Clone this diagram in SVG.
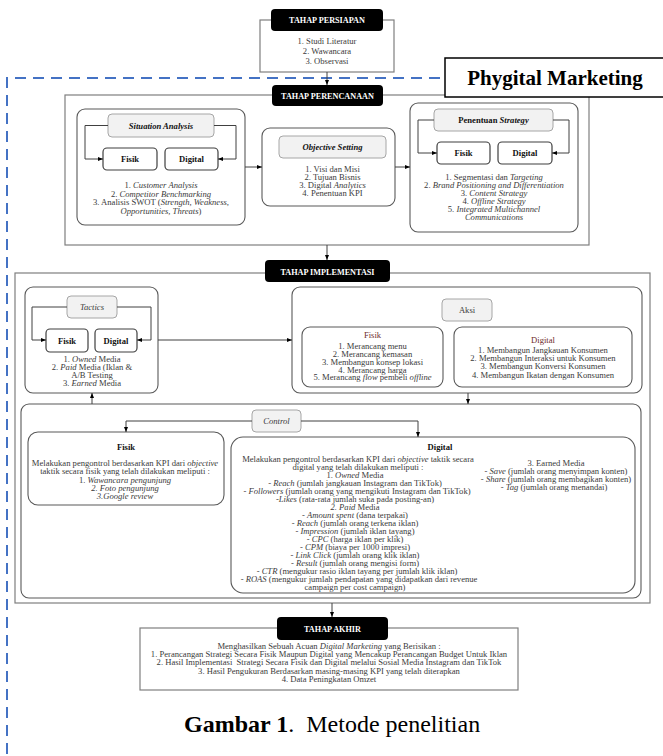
<svg xmlns="http://www.w3.org/2000/svg" width="663" height="756" viewBox="0 0 663 756">
<style>
.t{font-family:"Liberation Serif",serif;font-size:8.6px;fill:#3a3a3a;text-anchor:middle}
.i{font-style:italic}
.b{font-weight:bold;fill:#111}
.hd{font-family:"Liberation Serif",serif;font-size:8.2px;font-weight:bold;fill:#fff;text-anchor:middle}
.big{font-family:"Liberation Serif",serif;fill:#000}
.blk{fill:#000}
.outer{fill:#fff;stroke:#7f7f7f;stroke-width:1.2}
.card{fill:#fff;stroke:#595959;stroke-width:1.1}
.lab{fill:#f2f2f2;stroke:#a6a6a6;stroke-width:1}
.sub{fill:#fff;stroke:#3f3f3f;stroke-width:1.2}
.con{fill:none;stroke:#404040;stroke-width:1}
.mr{fill:#6e2a2a}
</style>
<defs>
<marker id="ah" viewBox="0 0 10 10" refX="10" refY="5" markerWidth="5" markerHeight="5" orient="auto" markerUnits="userSpaceOnUse"><path d="M0,1 L10,5 L0,9 z" fill="#000"/></marker>
</defs>
<rect width="663" height="756" fill="#fff"/>

<g id="phygital-border">
<path d="M440,78 H7 V756" fill="none" stroke="#4472C4" stroke-width="2" stroke-dasharray="11,7"/>
</g>

<g id="persiapan">
<rect class="outer" x="260" y="20" width="134" height="52"/>
<rect class="blk" x="271" y="9" width="112" height="22" rx="4"/>
<text class="hd" x="327" y="23">TAHAP PERSIAPAN</text>
<text class="t" x="327" y="44">1. Studi Literatur</text>
<text class="t" x="327" y="54">2. Wawancara</text>
<text class="t" x="327" y="64">3. Observasi</text>
</g>

<g id="perencanaan">
<rect class="outer" x="65" y="95" width="524" height="150"/>
<rect class="blk" x="272" y="85" width="111" height="21" rx="4"/>
<text class="hd" x="327.5" y="98.5">TAHAP PERENCANAAN</text>
</g>

<g id="situation">
<rect class="card" x="77" y="109" width="168" height="116" rx="8"/>
<rect class="lab" x="108" y="114" width="106" height="23" rx="4"/>
<text class="t i b" x="161" y="128.5">Situation Analysis</text>
<rect class="sub" x="103" y="148" width="54" height="22" rx="4"/>
<text class="t b" x="130" y="162">Fisik</text>
<rect class="sub" x="165" y="148" width="53" height="22" rx="4"/>
<text class="t b" x="191.5" y="162">Digital</text>
<text class="t" x="161" y="187.5">1. <tspan class="i">Customer Analysis</tspan></text>
<text class="t" x="161" y="196.5">2. <tspan class="i">Competitor Benchmarking</tspan></text>
<text class="t" x="161" y="204.5">3. Analisis SWOT (<tspan class="i">Strength, Weakness,</tspan></text>
<text class="t i" x="161" y="213.5">Opportunities, Threats<tspan font-style="normal">)</tspan></text>
</g>

<g id="objective">
<rect class="card" x="262" y="128" width="133" height="78" rx="8"/>
<rect class="lab" x="279" y="136" width="107" height="22" rx="4"/>
<text class="t i b" x="332.5" y="150">Objective Setting</text>
<text class="t" x="332.5" y="171.5">1. Visi dan Misi</text>
<text class="t" x="332.5" y="179.5">2. Tujuan Bisnis</text>
<text class="t" x="332.5" y="187.5">3. Digital <tspan class="i">Analytics</tspan></text>
<text class="t" x="332.5" y="195.5">4. Penentuan KPI</text>
</g>

<g id="strategy">
<rect class="card" x="410" y="103" width="168" height="129" rx="8"/>
<rect class="lab" x="434" y="109" width="119" height="22" rx="4"/>
<text class="t b" x="493.5" y="123">Penentuan <tspan class="i">Strategy</tspan></text>
<rect class="sub" x="437" y="142" width="53" height="22" rx="4"/>
<text class="t b" x="463.5" y="156">Fisik</text>
<rect class="sub" x="498" y="142" width="54" height="22" rx="4"/>
<text class="t b" x="525" y="156">Digital</text>
<text class="t" x="494" y="179.5">1. Segmentasi dan <tspan class="i">Targeting</tspan></text>
<text class="t" x="494" y="188">2. <tspan class="i">Brand Positioning and Differentiation</tspan></text>
<text class="t" x="494" y="196">3. <tspan class="i">Content Strategy</tspan></text>
<text class="t" x="494" y="204">4. <tspan class="i">Offline Strategy</tspan></text>
<text class="t" x="494" y="212">5. <tspan class="i">Integrated Multichannel</tspan></text>
<text class="t i" x="494" y="220">Communications</text>
</g>

<g id="implementasi">
<rect class="outer" x="15" y="273" width="635" height="330"/>
<rect class="blk" x="265" y="260" width="125" height="22" rx="4"/>
<text class="hd" x="327.5" y="274.5">TAHAP IMPLEMENTASI</text>
</g>

<g id="tactics">
<rect class="card" x="25" y="287" width="133" height="106" rx="8"/>
<rect class="lab" x="67" y="296" width="50" height="22" rx="4"/>
<text class="t i" x="92" y="310">Tactics</text>
<rect class="sub" x="46" y="329" width="42" height="23" rx="4"/>
<text class="t b" x="67" y="343.5">Fisik</text>
<rect class="sub" x="95" y="329" width="42" height="23" rx="4"/>
<text class="t b" x="116" y="343.5">Digital</text>
<text class="t" x="92" y="361.5">1. <tspan class="i">Owned </tspan>Media</text>
<text class="t" x="92" y="369.5">2. <tspan class="i">Paid </tspan>Media (Iklan &amp;</text>
<text class="t" x="92" y="377.5">A/B Testing</text>
<text class="t" x="92" y="385.5">3. <tspan class="i">Earned </tspan>Media</text>
</g>

<g id="aksi">
<rect class="card" x="292" y="287" width="350" height="106" rx="8"/>
<rect class="lab" x="442" y="299" width="50" height="22" rx="4"/>
<text class="t" x="467" y="313">Aksi</text>
<rect class="card" x="302" y="327" width="141" height="60" rx="8"/>
<text class="t mr" x="372.5" y="337.5">Fisik</text>
<text class="t" x="372.5" y="349">1. Merancang menu</text>
<text class="t" x="372.5" y="357">2. Merancang kemasan</text>
<text class="t" x="372.5" y="364.5">3. Membangun konsep lokasi</text>
<text class="t" x="372.5" y="372.5">4. Merancang harga</text>
<text class="t" x="372.5" y="380">5. Merancang <tspan class="i">flow</tspan> pembeli <tspan class="i">offline</tspan></text>
<rect class="card" x="454" y="327" width="178" height="60" rx="8"/>
<text class="t mr" x="543" y="342.5">Digital</text>
<text class="t" x="543" y="352.5">1. Membangun Jangkauan Konsumen</text>
<text class="t" x="543" y="360.5">2. Membangun Interaksi untuk Konsumen</text>
<text class="t" x="543" y="369">3. Membangun Konversi Konsumen</text>
<text class="t" x="543" y="377.5">4. Membangun Ikatan dengan Konsumen</text>
</g>

<g id="control">
<rect class="card" x="21" y="404" width="620" height="194" rx="8"/>
<rect class="lab" x="252" y="410" width="49" height="22" rx="4"/>
<text class="t i" x="276.5" y="424">Control</text>
</g>

<g id="control-fisik">
<rect class="card" x="28" y="432" width="196" height="73" rx="10"/>
<text class="t b" x="126" y="449.5">Fisik</text>
<text class="t" x="125" y="465.5">Melakukan pengontrol berdasarkan KPI dari <tspan class="i">objective</tspan></text>
<text class="t" x="125" y="474">taktik secara fisik yang telah dilakukan meliputi :</text>
<text class="t" x="125" y="482.5">1. <tspan class="i">Wawancara pengunjung</tspan></text>
<text class="t i" x="125" y="490.5">2. Foto pengunjung</text>
<text class="t i" x="125" y="498.5">3.Google review</text>
</g>

<g id="control-digital">
<rect class="card" x="231" y="437" width="404" height="156" rx="12"/>
<text class="t b" x="440" y="449.5">Digital</text>
<text class="t" x="358" y="461.5">Melakukan pengontrol berdasarkan KPI dari <tspan class="i">objective</tspan> taktik secara</text>
<text class="t" x="358" y="469.5">digital yang telah dilakukan meliputi :</text>
<text class="t" x="355" y="477.5">1. <tspan class="i">Owned </tspan>Media</text>
<text class="t" x="355" y="485.5">- <tspan class="i">Reach</tspan> (jumlah jangkauan Instagram dan TikTok)</text>
<text class="t" x="357" y="493.5">- <tspan class="i">Followers</tspan> (jumlah orang yang mengikuti Instagram dan TikTok)</text>
<text class="t" x="355" y="501.5">-<tspan class="i">Likes</tspan> (rata-rata jumlah suka pada posting-an)</text>
<text class="t" x="355" y="509.5"><tspan class="i">2. Paid </tspan>Media</text>
<text class="t" x="355" y="517.5">- <tspan class="i">Amount spent</tspan> (dana terpakai)</text>
<text class="t" x="355" y="525.5">- <tspan class="i">Reach</tspan> (jumlah orang terkena iklan)</text>
<text class="t" x="355" y="533.5">- <tspan class="i">Impression</tspan> (jumlah iklan tayang)</text>
<text class="t" x="355" y="541.5">- <tspan class="i">CPC</tspan> (harga iklan per klik)</text>
<text class="t" x="355" y="549.5">- <tspan class="i">CPM</tspan> (biaya per 1000 impresi)</text>
<text class="t" x="355" y="557.5">- <tspan class="i">Link Click</tspan> (jumlah orang klik iklan)</text>
<text class="t" x="355" y="565.5">- <tspan class="i">Result</tspan> (jumlah orang mengisi form)</text>
<text class="t" x="357" y="573.5">- <tspan class="i">CTR</tspan> (mengukur rasio iklan tayang per jumlah klik iklan)</text>
<text class="t" x="359" y="581.5">- <tspan class="i">ROAS</tspan> (mengukur jumlah pendapatan yang didapatkan dari revenue</text>
<text class="t" x="355" y="589.5">campaign per cost campaign)</text>
<text class="t" x="556" y="465.5">3. Earned Media</text>
<text class="t" x="556" y="473.5">- <tspan class="i">Save</tspan> (jumlah orang menyimpan konten)</text>
<text class="t" x="556" y="481.5">- <tspan class="i">Share</tspan> (jumlah orang membagikan konten)</text>
<text class="t" x="554" y="489.5">- <tspan class="i">Tag</tspan> (jumlah orang menandai)</text>
</g>

<g id="akhir">
<rect class="outer" x="140" y="628" width="378" height="62"/>
<rect class="blk" x="277" y="617" width="111" height="23" rx="4"/>
<text class="hd" x="332.5" y="631.5">TAHAP AKHIR</text>
<text class="t" x="329" y="648.5">Menghasilkan Sebuah Acuan <tspan class="i">Digital Marketing</tspan> yang Berisikan :</text>
<text class="t" x="329" y="656.5">1. Perancangan Strategi Secara Fisik Maupun Digital yang Mencakup Perancangan Budget Untuk Iklan</text>
<text class="t" x="329" y="665" xml:space="preserve">2. Hasil Implementasi  Strategi Secara Fisik dan Digital melalui Sosial Media Instagram dan TikTok</text>
<text class="t" x="329" y="673.5">3. Hasil Pengukuran Berdasarkan masing-masing KPI yang telah diterapkan</text>
<text class="t" x="329" y="681.5">4. Data Peningkatan Omzet</text>
</g>

<g id="connectors">
<path class="con" d="M327,72 V85" marker-end="url(#ah)"/>
<path class="con" d="M108,125.5 H85 V159 H103" marker-end="url(#ah)"/>
<path class="con" d="M214,125.5 H236 V159 H218" marker-end="url(#ah)"/>
<path class="con" d="M245,167 H262" marker-end="url(#ah)"/>
<path class="con" d="M395,167 H410" marker-end="url(#ah)"/>
<path class="con" d="M434,120 H418 V153 H437" marker-end="url(#ah)"/>
<path class="con" d="M553,120 H569 V153 H552" marker-end="url(#ah)"/>
<path class="con" d="M327,245 V260" marker-end="url(#ah)"/>
<path class="con" d="M67,307 H32 V340 H46" marker-end="url(#ah)"/>
<path class="con" d="M117,307 H151 V340 H137" marker-end="url(#ah)"/>
<path class="con" d="M158,340 H292" marker-end="url(#ah)"/>
<path class="con" d="M468,393 V404" marker-end="url(#ah)"/>
<path class="con" d="M92,404 V393" marker-end="url(#ah)"/>
<path class="con" d="M252,421 H126 V432" marker-end="url(#ah)"/>
<path class="con" d="M301,421 H418 V437" marker-end="url(#ah)"/>
<path class="con" d="M332,603 V617" marker-end="url(#ah)"/>
</g>

<g id="phygital">
<rect x="445" y="58" width="225" height="39" fill="#fff" stroke="#000" stroke-width="1.5"/>
<text class="big" x="555" y="85" font-size="21" font-weight="bold" text-anchor="middle">Phygital Marketing</text>
</g>

<g id="caption">
<text class="big" x="184" y="732" font-size="24" xml:space="preserve"><tspan font-weight="bold">Gambar 1</tspan>.  Metode penelitian</text>
</g>
</svg>
